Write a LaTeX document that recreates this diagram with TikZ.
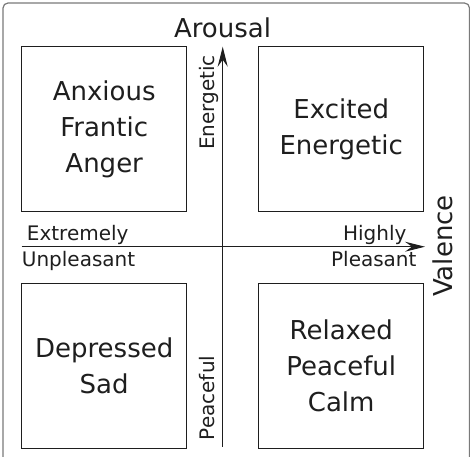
\documentclass[tikz,border=0pt]{standalone}
\usepackage{fontspec}
\setmainfont{DejaVu Sans}
\usetikzlibrary{arrows.meta}
\definecolor{ink}{HTML}{1E1E1E}
\definecolor{framecol}{HTML}{7A7A7A}
\begin{document}
\begin{tikzpicture}[x=1pt,y=-1pt,
  quad/.style={draw=ink, line width=1.2pt, minimum width=165pt, minimum height=165pt,
    inner sep=0pt, align=center, text=ink, font=\fontsize{26}{36}\selectfont},
  big/.style={text=ink, inner sep=0pt, font=\fontsize{26}{36}\selectfont},
  small/.style={text=ink, inner sep=0pt, font=\fontsize{20}{24}\selectfont},
  axis/.style={draw=ink, line width=1pt, -{Stealth[length=20pt,width=10pt,inset=7pt]}}]
\useasboundingbox (0,0) rectangle (470,456);
\clip (0,0) rectangle (470,456);
\draw[framecol, line width=1.2pt, rounded corners=5pt] (3,3) rectangle (469.5,475);
% quadrant boxes
\node[quad] (tl) at (104.2,129.2) {Anxious\\Frantic\\Anger};
\node[quad] (tr) at (341.2,129.2) {Excited\\Energetic};
\node[quad] (bl) at (104.2,365.8) {Depressed\\Sad};
\node[quad] (br) at (341.2,365.8) {Relaxed\\Peaceful\\Calm};
% axes
\coordinate (vbot) at (222.7,446.7);
\coordinate (vtop) at (222.7,46.7);
\coordinate (hleft) at (21.7,246.7);
\coordinate (hright) at (425,246.7);
\draw[axis] (vbot) -- (vtop);
\draw[axis] (hleft) -- (hright);
% labels
\node[big, anchor=base] (arousal) at (222.5,37.3) {Arousal};
\node[big, anchor=base, rotate=90] (valence) at (452,246) {Valence};
\node[small, anchor=base, rotate=90] (energ) at (214.5,102.5) {Energetic};
\node[small, anchor=base, rotate=90] (peace) at (214.5,398) {Peaceful};
\node[small, anchor=base west] (extr) at (26.7,240) {Extremely};
\node[small, anchor=base west] (unpl) at (21.7,266.7) {Unpleasant};
\node[small, anchor=base east] (high) at (406.7,240) {Highly};
\node[small, anchor=base east] (pleas) at (416.7,266.7) {Pleasant};
\end{tikzpicture}
\end{document}
